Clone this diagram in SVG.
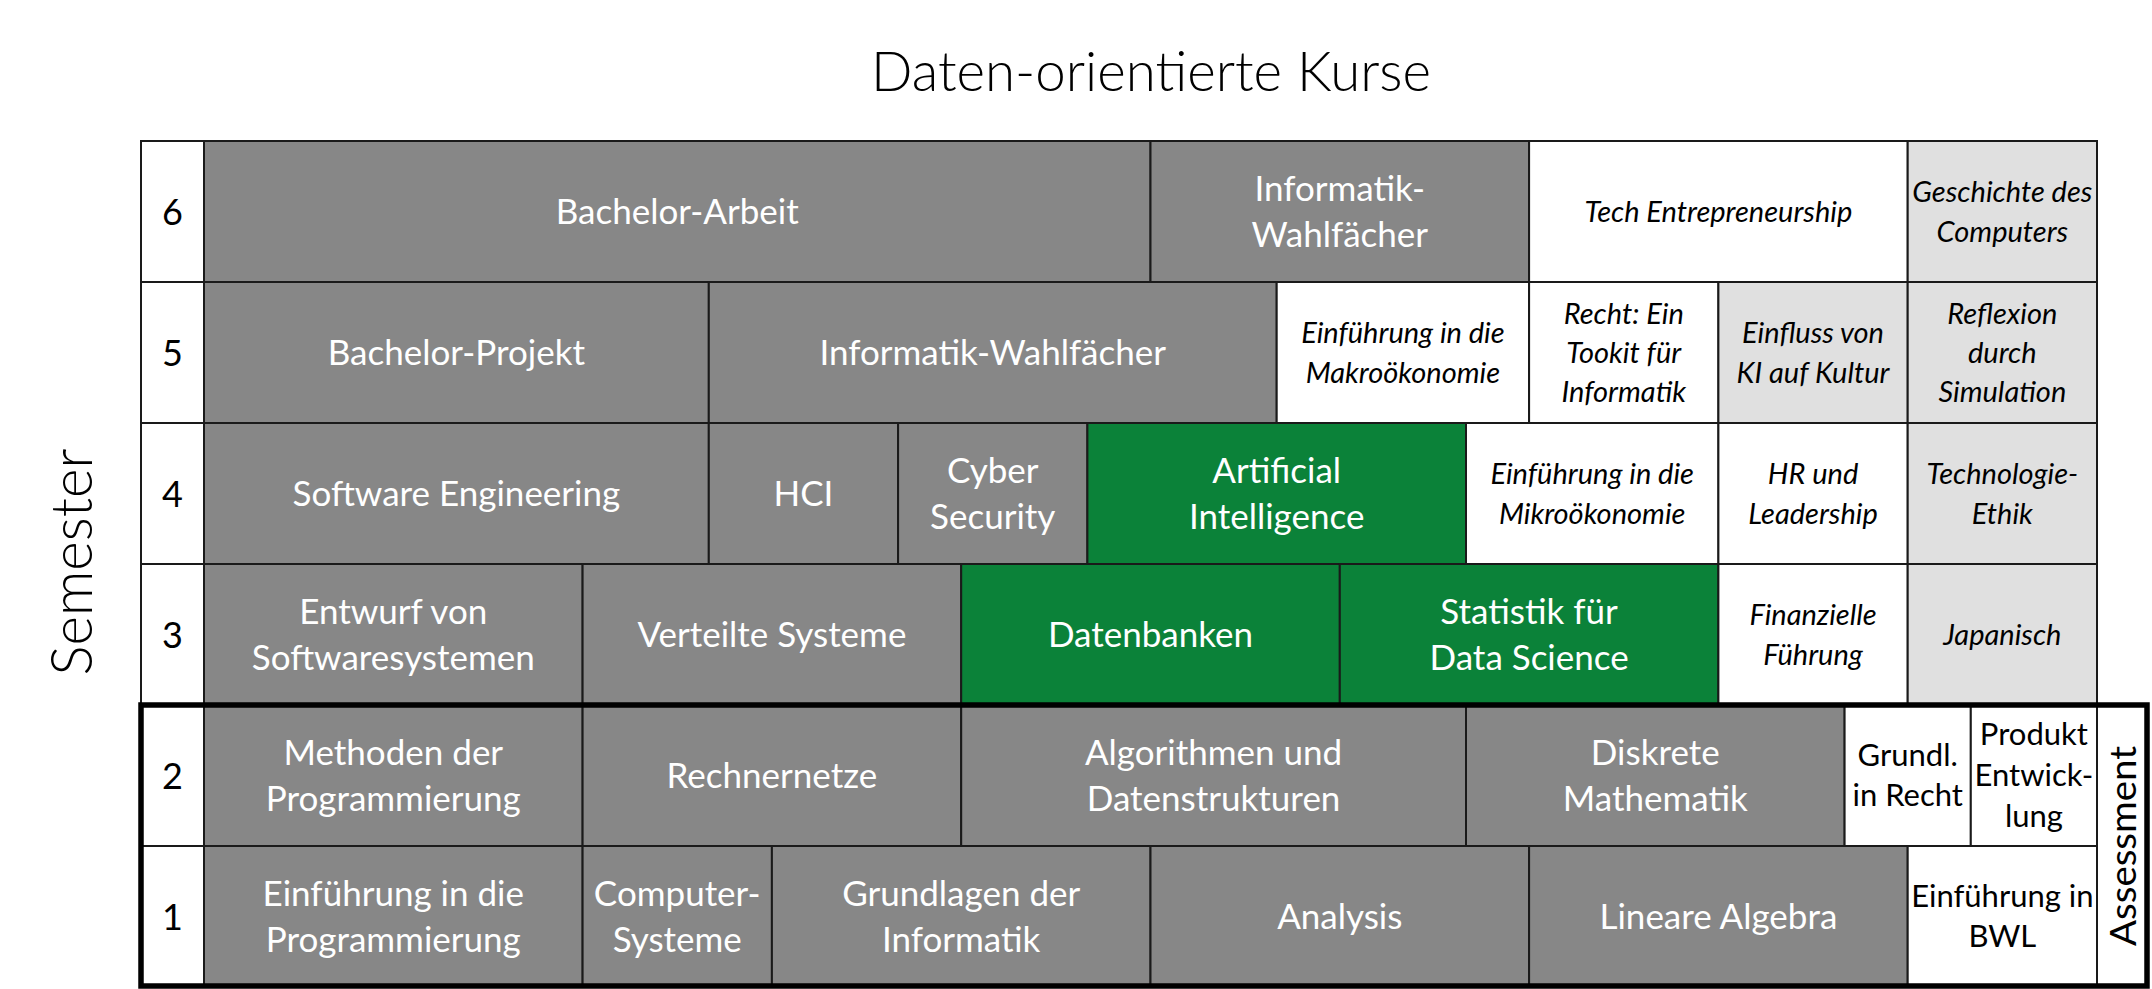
<svg xmlns="http://www.w3.org/2000/svg" width="2152" height="989" viewBox="0 0 2152 989">
<style>
rect.c{stroke:#1a1a1a;stroke-width:2}
.g{fill:#878787}.gr{fill:#0b8239}.lg{fill:#e0e0e0}.w{fill:#ffffff}
text{text-anchor:middle}
.tw{font-family:Lato,"Liberation Sans",sans-serif;font-size:35px;fill:#ffffff}
.ti{font-family:Lato,"Liberation Sans",sans-serif;font-size:29px;font-style:italic;fill:#000000}
.tb{font-family:Lato,"Liberation Sans",sans-serif;font-size:31px;fill:#000000}
.tn{font-family:Lato,"Liberation Sans",sans-serif;font-size:36px;fill:#000000}
.lbl{font-family:Lato,"Liberation Sans",sans-serif;font-weight:300;fill:#000000}
.asm{font-family:Lato,"Liberation Sans",sans-serif;font-weight:400;font-size:37px;fill:#000000}
</style>
<rect x="0" y="0" width="2152" height="989" fill="#ffffff"/>
<text class="lbl" x="1151" y="91" font-size="56" textLength="560" lengthAdjust="spacingAndGlyphs">Daten-orientierte Kurse</text>
<text class="lbl" transform="translate(92,562) rotate(-90)" x="0" y="0" font-size="58" textLength="227" lengthAdjust="spacingAndGlyphs">Semester</text>

<g id="semester-numbers">
<rect class="c w" x="141" y="141" width="63" height="141"/>
<rect class="c w" x="141" y="282" width="63" height="141"/>
<rect class="c w" x="141" y="423" width="63" height="141"/>
<rect class="c w" x="141" y="564" width="63" height="141"/>
<rect class="c w" x="141" y="705" width="63" height="141"/>
<rect class="c w" x="141" y="846" width="63" height="141"/>
<text class="tn" x="172.5" y="224.5">6</text>
<text class="tn" x="172.5" y="365.5">5</text>
<text class="tn" x="172.5" y="506.5">4</text>
<text class="tn" x="172.5" y="647.5">3</text>
<text class="tn" x="172.5" y="788.5">2</text>
<text class="tn" x="172.5" y="929.5">1</text>
</g>

<!-- Row 6 -->
<g id="bachelor-arbeit"><rect class="c g" x="204" y="141" width="946.5" height="141"/><text class="tw" x="677.25" y="223.5">Bachelor-Arbeit</text></g>
<g id="informatik-wahlfaecher-6"><rect class="c g" x="1150.5" y="141" width="378.6" height="141"/><text class="tw" x="1339.8" y="200.5">Informatik-</text><text class="tw" x="1339.8" y="246.5">Wahlfächer</text></g>
<g id="tech-entrepreneurship"><rect class="c w" x="1529.1" y="141" width="378.6" height="141"/><text class="ti" x="1718.4" y="222">Tech Entrepreneurship</text></g>
<g id="geschichte-des-computers"><rect class="c lg" x="1907.7" y="141" width="189.3" height="141"/><text class="ti" x="2002.35" y="202">Geschichte des</text><text class="ti" x="2002.35" y="242">Computers</text></g>

<!-- Row 5 -->
<g id="bachelor-projekt"><rect class="c g" x="204" y="282" width="504.8" height="141"/><text class="tw" x="456.4" y="364.5">Bachelor-Projekt</text></g>
<g id="informatik-wahlfaecher-5"><rect class="c g" x="708.8" y="282" width="567.9" height="141"/><text class="tw" x="992.75" y="364.5">Informatik-Wahlfächer</text></g>
<g id="makrooekonomie"><rect class="c w" x="1276.7" y="282" width="252.4" height="141"/><text class="ti" x="1402.9" y="343">Einführung in die</text><text class="ti" x="1402.9" y="383">Makroökonomie</text></g>
<g id="recht-toolkit"><rect class="c w" x="1529.1" y="282" width="189.3" height="141"/><text class="ti" x="1623.75" y="324">Recht: Ein</text><text class="ti" x="1623.75" y="363">Tookit für</text><text class="ti" x="1623.75" y="402">Informatik</text></g>
<g id="einfluss-ki"><rect class="c lg" x="1718.4" y="282" width="189.3" height="141"/><text class="ti" x="1813.05" y="343">Einfluss von</text><text class="ti" x="1813.05" y="383">KI auf Kultur</text></g>
<g id="reflexion-simulation"><rect class="c lg" x="1907.7" y="282" width="189.3" height="141"/><text class="ti" x="2002.35" y="324">Reflexion</text><text class="ti" x="2002.35" y="363">durch</text><text class="ti" x="2002.35" y="402">Simulation</text></g>

<!-- Row 4 -->
<g id="software-engineering"><rect class="c g" x="204" y="423" width="504.8" height="141"/><text class="tw" x="456.4" y="505.5">Software Engineering</text></g>
<g id="hci"><rect class="c g" x="708.8" y="423" width="189.3" height="141"/><text class="tw" x="803.45" y="505.5">HCI</text></g>
<g id="cyber-security"><rect class="c g" x="898.1" y="423" width="189.3" height="141"/><text class="tw" x="992.75" y="482.5">Cyber</text><text class="tw" x="992.75" y="528.5">Security</text></g>
<g id="artificial-intelligence"><rect class="c gr" x="1087.4" y="423" width="378.6" height="141"/><text class="tw" x="1276.7" y="482.5">Artificial</text><text class="tw" x="1276.7" y="528.5">Intelligence</text></g>
<g id="mikrooekonomie"><rect class="c w" x="1466" y="423" width="252.4" height="141"/><text class="ti" x="1592.2" y="484">Einführung in die</text><text class="ti" x="1592.2" y="524">Mikroökonomie</text></g>
<g id="hr-leadership"><rect class="c w" x="1718.4" y="423" width="189.3" height="141"/><text class="ti" x="1813.05" y="484">HR und</text><text class="ti" x="1813.05" y="524">Leadership</text></g>
<g id="technologie-ethik"><rect class="c lg" x="1907.7" y="423" width="189.3" height="141"/><text class="ti" x="2002.35" y="484">Technologie-</text><text class="ti" x="2002.35" y="524">Ethik</text></g>

<!-- Row 3 -->
<g id="entwurf-softwaresysteme"><rect class="c g" x="204" y="564" width="378.6" height="141"/><text class="tw" x="393.3" y="623.5">Entwurf von</text><text class="tw" x="393.3" y="669.5">Softwaresystemen</text></g>
<g id="verteilte-systeme"><rect class="c g" x="582.6" y="564" width="378.6" height="141"/><text class="tw" x="771.9" y="646.5">Verteilte Systeme</text></g>
<g id="datenbanken"><rect class="c gr" x="961.2" y="564" width="378.6" height="141"/><text class="tw" x="1150.5" y="646.5">Datenbanken</text></g>
<g id="statistik-data-science"><rect class="c gr" x="1339.8" y="564" width="378.6" height="141"/><text class="tw" x="1529.1" y="623.5">Statistik für</text><text class="tw" x="1529.1" y="669.5">Data Science</text></g>
<g id="finanzielle-fuehrung"><rect class="c w" x="1718.4" y="564" width="189.3" height="141"/><text class="ti" x="1813.05" y="625">Finanzielle</text><text class="ti" x="1813.05" y="665">Führung</text></g>
<g id="japanisch"><rect class="c lg" x="1907.7" y="564" width="189.3" height="141"/><text class="ti" x="2002.35" y="645">Japanisch</text></g>

<!-- Row 2 -->
<g id="methoden-programmierung"><rect class="c g" x="204" y="705" width="378.6" height="141"/><text class="tw" x="393.3" y="764.5">Methoden der</text><text class="tw" x="393.3" y="810.5">Programmierung</text></g>
<g id="rechnernetze"><rect class="c g" x="582.6" y="705" width="378.6" height="141"/><text class="tw" x="771.9" y="787.5">Rechnernetze</text></g>
<g id="algorithmen-datenstrukturen"><rect class="c g" x="961.2" y="705" width="504.8" height="141"/><text class="tw" x="1213.6" y="764.5">Algorithmen und</text><text class="tw" x="1213.6" y="810.5">Datenstrukturen</text></g>
<g id="diskrete-mathematik"><rect class="c g" x="1466" y="705" width="378.6" height="141"/><text class="tw" x="1655.3" y="764.5">Diskrete</text><text class="tw" x="1655.3" y="810.5">Mathematik</text></g>
<g id="grundl-recht"><rect class="c w" x="1844.6" y="705" width="126.2" height="141"/><text class="tb" x="1907.7" y="766">Grundl.</text><text class="tb" x="1907.7" y="806">in Recht</text></g>
<g id="produkt-entwicklung"><rect class="c w" x="1970.8" y="705" width="126.2" height="141"/><text class="tb" x="2033.9" y="745">Produkt</text><text class="tb" x="2033.9" y="786">Entwick-</text><text class="tb" x="2033.9" y="827">lung</text></g>

<!-- Row 1 -->
<g id="einfuehrung-programmierung"><rect class="c g" x="204" y="846" width="378.6" height="141"/><text class="tw" x="393.3" y="905.5">Einführung in die</text><text class="tw" x="393.3" y="951.5">Programmierung</text></g>
<g id="computer-systeme"><rect class="c g" x="582.6" y="846" width="189.3" height="141"/><text class="tw" x="677.25" y="905.5">Computer-</text><text class="tw" x="677.25" y="951.5">Systeme</text></g>
<g id="grundlagen-informatik"><rect class="c g" x="771.9" y="846" width="378.6" height="141"/><text class="tw" x="961.2" y="905.5">Grundlagen der</text><text class="tw" x="961.2" y="951.5">Informatik</text></g>
<g id="analysis"><rect class="c g" x="1150.5" y="846" width="378.6" height="141"/><text class="tw" x="1339.8" y="928.5">Analysis</text></g>
<g id="lineare-algebra"><rect class="c g" x="1529.1" y="846" width="378.6" height="141"/><text class="tw" x="1718.4" y="928.5">Lineare Algebra</text></g>
<g id="einfuehrung-bwl"><rect class="c w" x="1907.7" y="846" width="189.3" height="141"/><text class="tb" x="2002.35" y="907">Einführung in</text><text class="tb" x="2002.35" y="947">BWL</text></g>

<g id="assessment">
<rect class="c w" x="2097" y="705" width="50" height="282"/>
<text class="asm" transform="translate(2136,846) rotate(-90)" x="0" y="0" textLength="200" lengthAdjust="spacingAndGlyphs">Assessment</text>
<rect x="141" y="705" width="2006" height="281" fill="none" stroke="#000000" stroke-width="5.5"/>
</g>
</svg>
